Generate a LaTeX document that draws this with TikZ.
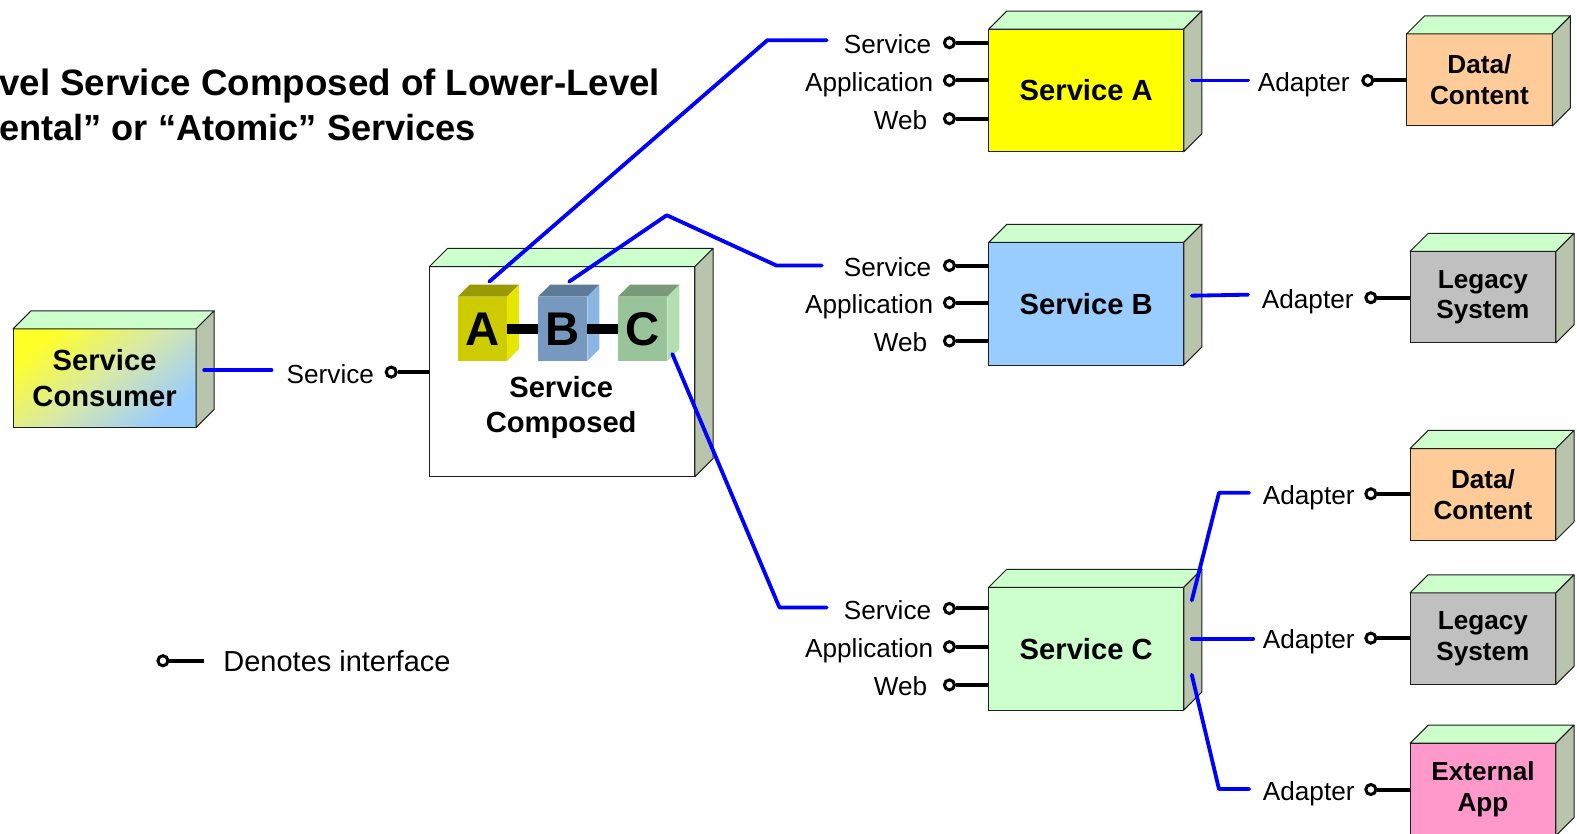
\documentclass[tikz,border=0pt]{standalone}
\usepackage{fontspec}
\setmainfont{Liberation Sans}
\definecolor{topg}{RGB}{204,255,204}
\definecolor{sideg}{RGB}{184,196,172}
\definecolor{edgec}{RGB}{30,30,30}
\definecolor{wireb}{RGB}{0,0,255}
\definecolor{ayel}{RGB}{255,255,0}
\definecolor{bblu}{RGB}{153,204,255}
\definecolor{cgrn}{RGB}{204,255,204}
\definecolor{peach}{RGB}{255,204,153}
\definecolor{lgray}{RGB}{192,192,192}
\definecolor{pinkc}{RGB}{255,153,204}
\definecolor{cubeAf}{RGB}{204,204,0}
\definecolor{cubeAs}{RGB}{230,230,0}
\definecolor{cubeAt}{RGB}{153,153,0}
\definecolor{cubeBf}{RGB}{119,153,192}
\definecolor{cubeBs}{RGB}{140,182,226}
\definecolor{cubeBt}{RGB}{94,122,153}
\definecolor{cubeCf}{RGB}{153,196,153}
\definecolor{cubeCs}{RGB}{178,222,178}
\definecolor{cubeCt}{RGB}{122,154,122}
\definecolor{consY}{RGB}{255,255,40}
\definecolor{consM}{RGB}{215,232,170}
\definecolor{consB}{RGB}{153,204,255}
\newcommand\lblfont{\fontsize{26}{30}\selectfont}
\newcommand\bigbf{\fontsize{29}{35}\selectfont\bfseries}
\newcommand\midbf{\fontsize{26}{30.5}\selectfont\bfseries}
\newcommand\deepbox[5]{%
  \path[#5,fill=#3] (#1.north west) -- ++(#2,-#2) -- ([shift={(#2,-#2)}]#1.north east) -- (#1.north east) -- cycle;
  \path[#5,fill=#4] (#1.north east) -- ++(#2,-#2) -- ([shift={(#2,-#2)}]#1.south east) -- (#1.south east) -- cycle;}
\tikzset{
  x=1pt,y=-1pt,
  box/.style={draw=edgec,line width=1pt,inner sep=0pt,outer sep=0pt,align=center},
  edged/.style={draw=edgec,line width=1pt,line join=round},
  plain/.style={draw=none},
  ifc/.style={circle,draw=black,fill=white,line width=3pt,minimum size=10pt,inner sep=0pt},
  stub/.style={draw=black,line width=4pt},
  wire/.style={draw=wireb,line width=3.8pt,line join=round,line cap=round},
  lbl/.style={font=\lblfont,anchor=base east,inner sep=0pt},
  cube/.style={inner sep=0pt,outer sep=0pt,minimum width=49pt,minimum height=64pt,font=\fontsize{47}{47}\selectfont\bfseries},
}
\begin{document}
\begin{tikzpicture}
\useasboundingbox (0,0) rectangle (1568,829);
\fill[white] (0,0) rectangle (1568,829);

% title
\node[anchor=base west,inner sep=0pt,font=\fontsize{36.5}{40}\selectfont\bfseries] (t1) at (-1,95) {vel Service Composed of Lower-Level};
\node[anchor=base west,inner sep=0pt,font=\fontsize{36}{40}\selectfont\bfseries] (t2) at (-1,140) {ental” or “Atomic” Services};

% service consumer
\node[box,minimum width=182pt,minimum height=98pt,top color=consY,bottom color=consB,middle color=consM,shading angle=40,font=\bigbf] (cons) at (104,376) {Service\\[1pt]Consumer};
\deepbox{cons}{18}{topg}{sideg}{edged}

% composed service
\node[box,fill=white,minimum width=264pt,minimum height=209pt] (comp) at (559,369.5) {};
\deepbox{comp}{18}{topg}{sideg}{edged}
\node[font=\bigbf,align=center,inner sep=0pt] (comptxt) at (558,405) {Service\\Composed};

% cubes
\node[cube,fill=cubeAf] (ca) at (479.5,327) {A};
\deepbox{ca}{12}{cubeAt}{cubeAs}{plain}
\node[cube,fill=cubeBf] (cb) at (559.5,327) {B};
\deepbox{cb}{12}{cubeBt}{cubeBs}{plain}
\node[cube,fill=cubeCf] (cc) at (639,327) {C};
\deepbox{cc}{12}{cubeCt}{cubeCs}{plain}
\draw[line width=10pt] (ca.east) -- (cb.west);
\draw[line width=10pt] (cb.east) -- (cc.west);

% composed interface
\node[ifc] (compi) at (389,370) {};
\draw[stub] (compi.east) -- (compi.east -| comp.west);
\node[lbl] (compl) at (372,381) {Service};
\coordinate (consw) at (203,368);
\coordinate (conse) at (270,368);
\draw[wire] (consw) -- (conse);

% Service A, B, C
\node[box,fill=ayel,minimum width=194pt,minimum height=122pt,font=\bigbf] (sA) at (1080,90) {Service A};
\deepbox{sA}{18}{topg}{sideg}{edged}
\node[box,fill=bblu,minimum width=194pt,minimum height=122pt,font=\bigbf] (sB) at (1080,302) {Service B};
\deepbox{sB}{18}{topg}{sideg}{edged}
\node[box,fill=cgrn,minimum width=194pt,minimum height=122pt,font=\bigbf] (sC) at (1080,645) {Service C};
\deepbox{sC}{18}{topg}{sideg}{edged}

% interfaces of services
\foreach \s/\ya/\yb/\yc in {A/42.5/80/118, B/264/301/339, C/605/643/681}{
  \node[ifc] (\s i1) at (944,\ya) {};
  \node[ifc] (\s i2) at (944,\yb) {};
  \node[ifc] (\s i3) at (944,\yc) {};
  \draw[stub] (\s i1.east) -- (\s i1.east -| s\s.west);
  \draw[stub] (\s i2.east) -- (\s i2.east -| s\s.west);
  \draw[stub] (\s i3.east) -- (\s i3.east -| s\s.west);
  \node[lbl] (\s l1) at (926,\ya+10.5) {Service};
  \node[lbl] (\s l2) at (928,\yb+10.5) {Application};
  \node[lbl] (\s l3) at (922,\yc+10.5) {Web};
}

% back-end boxes
\node[box,fill=peach,minimum width=145pt,minimum height=91.5pt,font=\midbf] (d1) at (1471,79.5) {Data/\\Content};
\deepbox{d1}{18}{topg}{sideg}{edged}
\node[box,fill=lgray,minimum width=145pt,minimum height=91pt,font=\midbf] (l1) at (1474.5,295.5) {Legacy\\System};
\deepbox{l1}{18}{topg}{sideg}{edged}
\node[box,fill=peach,minimum width=145pt,minimum height=91pt,font=\midbf] (d2) at (1474.5,491.5) {Data/\\Content};
\deepbox{d2}{18}{topg}{sideg}{edged}
\node[box,fill=lgray,minimum width=145pt,minimum height=91pt,font=\midbf] (l2) at (1474.5,635) {Legacy\\System};
\deepbox{l2}{18}{topg}{sideg}{edged}
\node[box,fill=pinkc,minimum width=145pt,minimum height=92pt,font=\midbf] (ex) at (1474.5,785) {External\\App};
\deepbox{ex}{18}{topg}{sideg}{edged}
\foreach \b/\dy in {d1/2, l1/3, d2/2, l2/3, ex/3}{}
% adapters
\foreach \n/\b/\cx/\cy/\lx in {a1/d1/1360/80/1342, a2/l1/1363/296/1346, a3/d2/1363/491/1347, a4/l2/1363/634.5/1347, a5/ex/1363/785/1347}{
  \node[ifc] (\n) at (\cx,\cy) {};
  \draw[stub] (\n.east) -- (\n.east -| \b.west);
  \node[lbl] (\n l) at (\lx,\cy+10.5) {Adapter};
}

% blue wires
\coordinate (wa1) at ([shift={(7,-15)}]ca.north);
\coordinate (wa2) at (763,40);
\coordinate (wa3) at (822,40);
\draw[wire] (wa1) -- (wa2) -- (wa3);
\coordinate (wb1) at ([shift={(6.5,-15)}]cb.north);
\coordinate (wb2) at (663,214);
\coordinate (wb3) at (772,264);
\coordinate (wb4) at (817,264);
\draw[wire] (wb1) -- (wb2) -- (wb3) -- (wb4);
\coordinate (wc1) at ([shift={(5,-7)}]cc.south east);
\coordinate (wc2) at (775,604);
\coordinate (wc3) at (822,604);
\draw[wire] (wc1) -- (wc2) -- (wc3);

\draw[wire] ([xshift=8]sA.east |- 0,80) -- (1241,80);
\draw[wire] ([xshift=8]sB.east |- 0,294) -- (1241,293);
\draw[wire] ([xshift=8]sC.east |- 0,597) -- (1212,490) -- (1242,490);
\draw[wire] ([xshift=8]sC.east |- 0,635) -- (1246,635);
\draw[wire] ([xshift=8]sC.east |- 0,671) -- (1212,784.5) -- (1242,784.5);

% legend
\node[ifc] (legc) at (162,657) {};
\coordinate (lege) at (203,657);
\draw[stub] (legc.east) -- (lege);
\node[anchor=base west,inner sep=0pt,font=\fontsize{28.8}{33}\selectfont] (legt) at (222,667.5) {Denotes interface};
\end{tikzpicture}
\end{document}
